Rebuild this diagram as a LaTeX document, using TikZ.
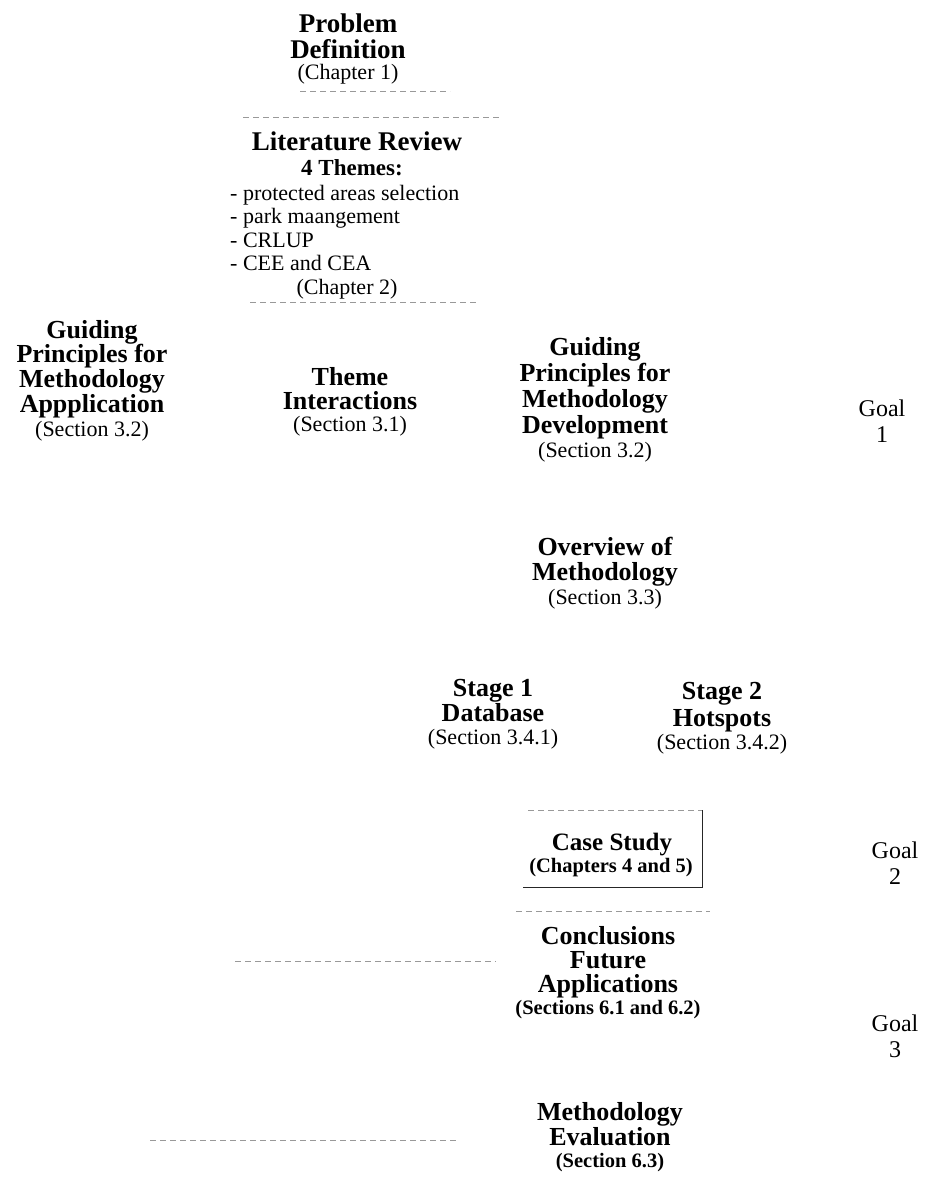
\documentclass[tikz,border=0pt]{standalone}
\usepackage{fontspec}
\setmainfont{Liberation Serif}
\begin{document}
\begin{tikzpicture}[x=1pt,y=-1pt,
  ttl/.style={font=\fontsize{26}{25}\selectfont\bfseries, align=center, inner sep=0pt, anchor=north},
  sec/.style={font=\fontsize{22}{24}\selectfont, inner sep=0pt, anchor=base},
  secb/.style={font=\fontsize{20.5}{24}\selectfont\bfseries, inner sep=0pt, anchor=base},
  goal/.style={font=\fontsize{24}{26}\selectfont, align=center, inner sep=0pt, anchor=north},
  frag/.style={draw=black!40, dashed, dash pattern=on 6pt off 4pt, line width=0.8pt},
  boxline/.style={draw=black!85, line width=1pt}]
\useasboundingbox (0,0) rectangle (933,1190);
\fill[white] (0,0) rectangle (933,1190);

% Problem definition
\node[ttl, font=\fontsize{27}{26}\selectfont\bfseries] (prob) at (348,14) {Problem\\Definition};
\node[sec] (probs) at (348,80) {(Chapter 1)};
\coordinate (d1a) at (300,91); \coordinate (d1b) at (450,91);
\coordinate (d2a) at (243,117); \coordinate (d2b) at (500,117);
\draw[frag] (d1a) -- (d1b);
\draw[frag] (d2a) -- (d2b);

% Literature review
\node[inner sep=0pt, anchor=base, font=\fontsize{27}{26}\selectfont\bfseries] (lit) at (357,151) {Literature Review};
\node[inner sep=0pt, anchor=base, font=\fontsize{23}{26}\selectfont\bfseries] (themes) at (352,176) {4 Themes:};
\node[inner sep=0pt, anchor=north west, align=left, font=\fontsize{22}{23.5}\selectfont] (list) at (230,185)
  {- protected areas selection\\- park maangement\\- CRLUP\\- CEE and CEA};
\node[sec] (lits) at (347,294) {(Chapter 2)};
\coordinate (d3a) at (250,302); \coordinate (d3b) at (477,302);
\draw[frag] (d3a) -- (d3b);

% Guiding principles (application)
\node[ttl, font=\fontsize{26}{24.7}\selectfont\bfseries] (gpa) at (92,320) {Guiding\\Principles for\\Methodology\\Appplication};
\node[sec] (gpas) at (92,436) {(Section 3.2)};

% Theme interactions
\node[ttl, font=\fontsize{26}{24}\selectfont\bfseries] (ti) at (350,367) {Theme\\Interactions};
\node[sec] (tis) at (350,431) {(Section 3.1)};

% Guiding principles (development)
\node[ttl, font=\fontsize{26}{26}\selectfont\bfseries] (gpd) at (595,337) {Guiding\\Principles for\\Methodology\\Development};
\node[sec] (gpds) at (595,457) {(Section 3.2)};

\node[goal] (g1) at (882,400) {Goal\\1};

% Overview
\node[ttl] (ov) at (605,537) {Overview of\\Methodology};
\node[sec] (ovs) at (605,604) {(Section 3.3)};

% Stages
\node[ttl] (s1) at (493,679) {Stage 1\\Database};
\node[sec] (s1s) at (493,744) {(Section 3.4.1)};
\node[ttl, font=\fontsize{26}{27}\selectfont\bfseries] (s2) at (722,682) {Stage 2\\Hotspots};
\node[sec] (s2s) at (722,749) {(Section 3.4.2)};

% Case study
\node[inner sep=0pt, anchor=base, font=\fontsize{25}{26}\selectfont\bfseries] (cs) at (612,850) {Case Study};
\node[secb] (css) at (611,872) {(Chapters 4 and 5)};
\coordinate (bxa) at (528,810); \coordinate (bxb) at (702,810);
\coordinate (bxc) at (702,887); \coordinate (bxd) at (523,887);
\draw[frag] (bxa) -- (bxb);
\draw[boxline] (bxb) -- (bxc) -- (bxd);

\node[goal] (g2) at (895,842) {Goal\\2};

% Conclusions
\coordinate (d4a) at (516,911); \coordinate (d4b) at (710,911);
\draw[frag] (d4a) -- (d4b);
\node[ttl, font=\fontsize{26}{24}\selectfont\bfseries] (con) at (608,926) {Conclusions\\Future\\Applications};
\node[secb] (cons) at (608,1014) {(Sections 6.1 and 6.2)};
\coordinate (d5a) at (235,961); \coordinate (d5b) at (496,961);
\draw[frag] (d5a) -- (d5b);

\node[goal] (g3) at (895,1015) {Goal\\3};

% Methodology evaluation
\node[ttl] (me) at (610,1102) {Methodology\\Evaluation};
\node[secb] (mes) at (610,1167) {(Section 6.3)};
\coordinate (d6a) at (150,1140); \coordinate (d6b) at (458,1140);
\draw[frag] (d6a) -- (d6b);
\end{tikzpicture}
\end{document}
